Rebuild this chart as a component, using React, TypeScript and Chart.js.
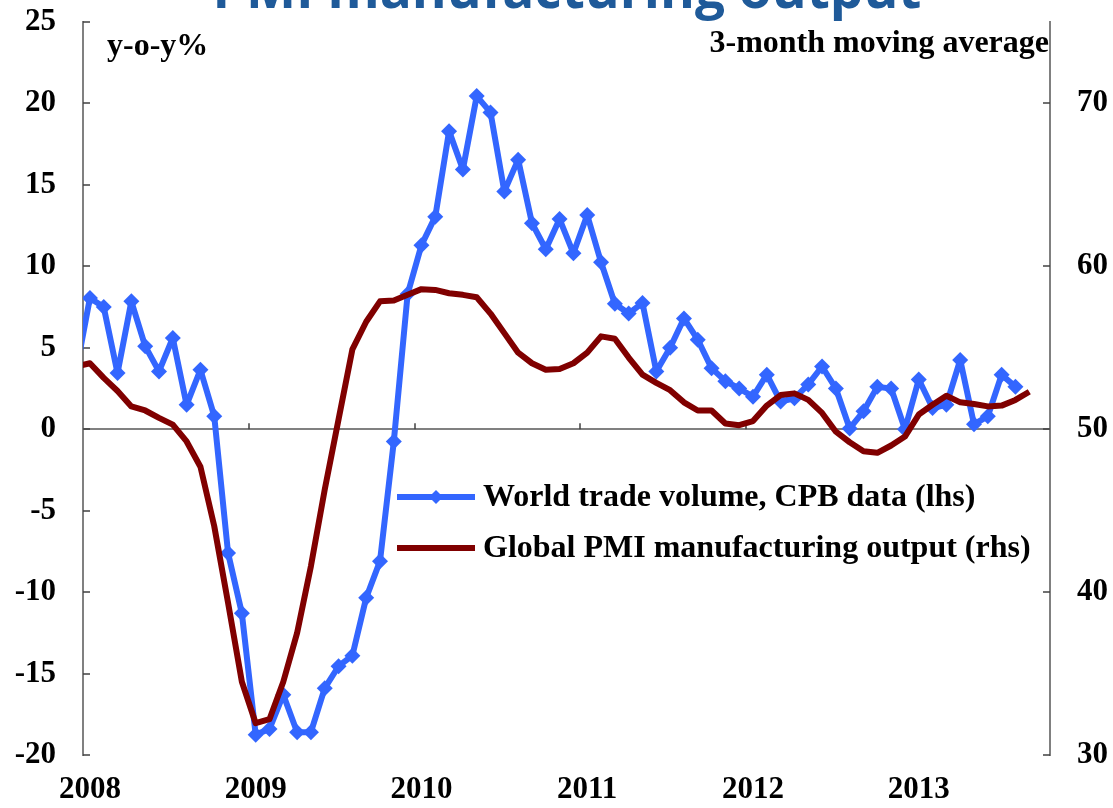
import React, { useEffect, useRef } from 'react';
import { Chart, registerables } from 'chart.js';

Chart.register(...registerables);

// x: months since Jan 2008 (first value is Dec 2007, clipped by the axis)
const yearLabels = ['2008', '2009', '2010', '2011', '2012', '2013'];
const yearTickValues = [0.5, 12.5, 24.5, 36.5, 48.5, 60.5];
const yearBoundaries = [12, 24, 36, 48, 60];

const leftTicks = [-20, -15, -10, -5, 0, 5, 10, 15, 20, 25];
const rightTicks = [30, 40, 50, 60, 70];

// World trade volume, CPB data, y-o-y % (Dec 2007 .. Aug 2013)
const tradeVolume = [
  3.55, 8.05, 7.5, 3.45, 7.85, 5.1, 3.55, 5.6, 1.5, 3.65, 0.8, -7.6, -11.3,
  -18.75, -18.4, -16.3, -18.6, -18.6, -15.9, -14.55, -13.9, -10.35, -8.1, -0.75,
  8.3, 11.3, 13.05, 18.3, 15.95, 20.45, 19.45, 14.6, 16.55, 12.65, 11.05, 12.9,
  10.8, 13.15, 10.25, 7.7, 7.1, 7.75, 3.55, 5.0, 6.8, 5.5, 3.75, 2.95, 2.5, 2.0,
  3.35, 1.7, 1.9, 2.75, 3.85, 2.5, 0.05, 1.1, 2.6, 2.5, 0.0, 3.05, 1.3, 1.5,
  4.25, 0.3, 0.8, 3.35, 2.6,
];

// Global PMI manufacturing output, 3-month moving average (Dec 2007 .. Sep 2013)
const pmiOutput = [
  53.85, 54.05, 53.15, 52.35, 51.4, 51.15, 50.7, 50.28, 49.25, 47.7, 44.05,
  39.35, 34.5, 31.95, 32.2, 34.5, 37.5, 41.6, 46.3, 50.6, 54.9, 56.6, 57.85,
  57.9, 58.25, 58.6, 58.55, 58.35, 58.25, 58.1, 57.1, 55.9, 54.7, 54.05, 53.65,
  53.7, 54.05, 54.7, 55.7, 55.55, 54.4, 53.35, 52.85, 52.4, 51.65, 51.15, 51.15,
  50.35, 50.25, 50.5, 51.45, 52.1, 52.2, 51.8, 51.0, 49.85, 49.2, 48.65, 48.55,
  49.0, 49.55, 50.9, 51.5, 52.05, 51.65, 51.55, 51.4, 51.45, 51.8, 52.3,
];

const seriesLabels = [
  'World trade volume, CPB data (lhs)',
  'Global PMI manufacturing output (rhs)',
];
const titleText = 'PMI manufacturing output';
const leftNote = 'y-o-y%';
const rightNote = '3-month moving average';

const BLUE = '#3366FF';
const RED = '#800000';
const AXIS = '#808080';
const SERIF = '"Liberation Serif", "Times New Roman", serif';
const LABEL_FONT = { family: SERIF, size: 31, weight: 'bold' as const };
const TEXT_SIZE = 32;

const decorPlugin = {
  id: 'decor',
  beforeDatasetsDraw(chart: any) {
    const { ctx, chartArea, scales } = chart;
    const yL = scales.y;
    const yR = scales.y1;
    const x = scales.x;
    ctx.save();
    ctx.strokeStyle = '#404040';
    ctx.lineWidth = 1.5;
    leftTicks.forEach((v) => {
      const py = Math.round(yL.getPixelForValue(v));
      ctx.beginPath();
      ctx.moveTo(chartArea.left, py);
      ctx.lineTo(chartArea.left + 7, py);
      ctx.stroke();
    });
    rightTicks.forEach((v) => {
      const py = Math.round(yR.getPixelForValue(v));
      ctx.beginPath();
      ctx.moveTo(chartArea.right - 7, py);
      ctx.lineTo(chartArea.right, py);
      ctx.stroke();
    });
    const zy = yL.getPixelForValue(0);
    yearBoundaries.forEach((v) => {
      const px = Math.round(x.getPixelForValue(v));
      ctx.beginPath();
      ctx.moveTo(px, zy);
      ctx.lineTo(px, zy - 6);
      ctx.stroke();
    });
    ctx.restore();
  },
  afterDraw(chart: any) {
    const { ctx, chartArea } = chart;
    ctx.save();
    // title (cut by the top edge)
    let size = 52;
    ctx.font = `bold ${size}px "Open Sans", sans-serif`;
    const w = ctx.measureText(titleText).width;
    size = size * (709 / w);
    ctx.font = `bold ${size}px "Open Sans", sans-serif`;
    ctx.fillStyle = '#1F5A99';
    ctx.textAlign = 'center';
    ctx.textBaseline = 'alphabetic';
    ctx.fillText(titleText, 567, 8);

    // notes
    ctx.fillStyle = '#000';
    ctx.font = `bold ${TEXT_SIZE}px ${SERIF}`;
    ctx.textAlign = 'left';
    ctx.fillText(leftNote, 107, 55);
    ctx.textAlign = 'right';
    ctx.fillText(rightNote, chartArea.right - 1, 52);

    // legend
    const datasets = chart.data.datasets;
    datasets.forEach((ds: any, i: number) => {
      const y = 497 + i * 51;
      ctx.strokeStyle = ds.borderColor;
      ctx.lineWidth = ds.borderWidth;
      ctx.lineCap = 'butt';
      ctx.beginPath();
      ctx.moveTo(397, y);
      ctx.lineTo(475, y);
      ctx.stroke();
      if (ds.pointStyle === 'rectRot') {
        const r = 7;
        ctx.fillStyle = ds.pointBackgroundColor;
        ctx.beginPath();
        ctx.moveTo(436, y - r);
        ctx.lineTo(436 + r, y);
        ctx.lineTo(436, y + r);
        ctx.lineTo(436 - r, y);
        ctx.closePath();
        ctx.fill();
      }
      ctx.fillStyle = '#000';
      ctx.font = `bold ${TEXT_SIZE}px ${SERIF}`;
      ctx.textAlign = 'left';
      ctx.textBaseline = 'middle';
      ctx.fillText(ds.label, 483, y + 1);
    });
    ctx.restore();
  },
};

export default function App() {
  const ref = useRef<HTMLCanvasElement | null>(null);

  useEffect(() => {
    if (!ref.current) return;
    const tradeData = tradeVolume.map((v, i) => ({ x: i - 0.5, y: v }));
    const pmiData = pmiOutput.map((v, i) => ({ x: i - 0.5, y: v }));

    const chart = new Chart(ref.current, {
      type: 'line',
      data: {
        datasets: [
          {
            label: seriesLabels[0],
            data: tradeData,
            yAxisID: 'y',
            borderColor: BLUE,
            backgroundColor: BLUE,
            pointBackgroundColor: BLUE,
            pointBorderColor: BLUE,
            borderWidth: 6,
            pointStyle: 'rectRot',
            pointRadius: (c: any) => (c.dataIndex === 0 ? 0 : 8),
            pointBorderWidth: 0,
            tension: 0,
            borderJoinStyle: 'round',
            order: 2,
          } as any,
          {
            label: seriesLabels[1],
            data: pmiData,
            yAxisID: 'y1',
            borderColor: RED,
            backgroundColor: RED,
            borderWidth: 6,
            pointRadius: 0,
            tension: 0,
            borderJoinStyle: 'round',
            order: 1,
          } as any,
        ],
      },
      options: {
        animation: false,
        responsive: false,
        events: [],
        layout: { padding: { top: 22, left: 0, right: 0, bottom: 0 } },
        plugins: {
          legend: { display: false },
          title: { display: false },
          tooltip: { enabled: false },
        },
        scales: {
          x: {
            type: 'linear',
            min: 0,
            max: 70,
            grid: { display: false, drawTicks: false },
            border: { display: false },
            afterBuildTicks: (s: any) => {
              s.ticks = yearTickValues.map((v) => ({ value: v }));
            },
            afterFit: (s: any) => {
              s.height = 53;
              s.paddingLeft = 0;
              s.paddingRight = 0;
            },
            ticks: {
              autoSkip: false,
              maxRotation: 0,
              padding: 16,
              color: '#000',
              font: LABEL_FONT,
              callback: (v: any) => {
                const idx = yearTickValues.indexOf(Number(v));
                return idx >= 0 ? yearLabels[idx] : '';
              },
            },
          },
          y: {
            type: 'linear',
            position: 'left',
            min: -20,
            max: 25,
            afterBuildTicks: (s: any) => {
              s.ticks = leftTicks.map((v) => ({ value: v }));
            },
            afterFit: (s: any) => {
              s.width = 83;
              s.paddingTop = 0;
              s.paddingBottom = 0;
            },
            grid: {
              drawTicks: false,
              lineWidth: 2,
              color: (c: any) => (c.tick && c.tick.value === 0 ? AXIS : 'rgba(0,0,0,0)'),
            },
            border: { display: true, color: AXIS, width: 2 },
            ticks: {
              padding: 27,
              color: '#000',
              font: LABEL_FONT,
            },
          },
          y1: {
            type: 'linear',
            position: 'right',
            min: 30,
            max: 75,
            afterBuildTicks: (s: any) => {
              s.ticks = rightTicks.map((v) => ({ value: v }));
            },
            afterFit: (s: any) => {
              s.width = 63;
              s.paddingTop = 0;
              s.paddingBottom = 0;
            },
            grid: { display: false, drawTicks: false },
            border: { display: true, color: AXIS, width: 2 },
            ticks: {
              padding: 27,
              color: '#000',
              font: LABEL_FONT,
            },
          },
        },
      } as any,
      plugins: [decorPlugin],
    });
    return () => chart.destroy();
  }, []);

  return (
    <div style={{ position: 'fixed', left: 0, top: 0, width: 1113, height: 808, background: '#fff' }}>
      <canvas ref={ref} width={1113} height={808} style={{ display: 'block' }} />
    </div>
  );
}
